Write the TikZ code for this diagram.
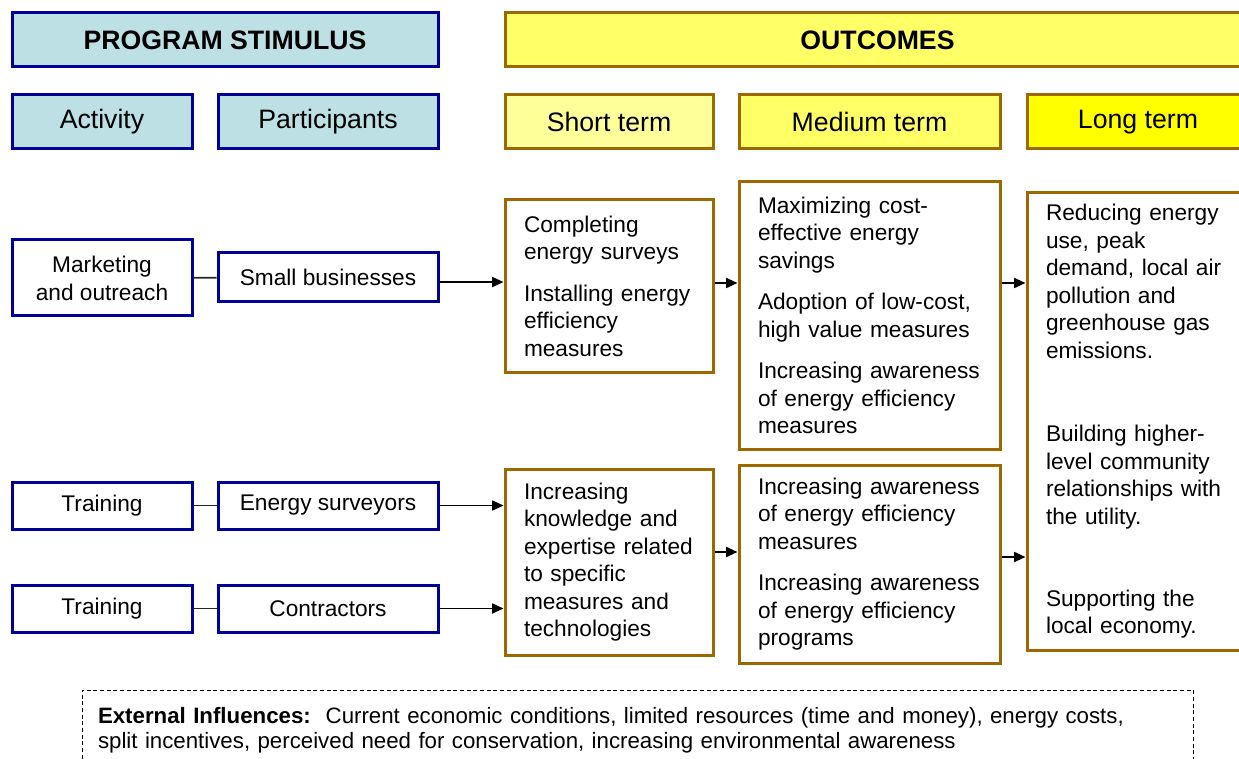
\documentclass[tikz,border=0pt]{standalone}
\usepackage{fontspec}
\setmainfont{Liberation Sans}
\usetikzlibrary{arrows.meta}

\definecolor{stimblue}{RGB}{0,0,153}
\definecolor{stimfill}{RGB}{188,224,228}
\definecolor{outbrown}{RGB}{158,104,0}
\definecolor{outfill}{RGB}{255,255,102}
\definecolor{shortfill}{RGB}{255,255,153}
\definecolor{longfill}{RGB}{255,255,0}

\tikzset{
  stimbox/.style={draw=stimblue, line width=2.25pt, fill=white, inner sep=0pt, align=center,
    font=\fontsize{17}{21}\selectfont},
  stimhead/.style={stimbox, fill=stimfill, minimum height=40.5pt, font=\fontsize{20}{24}\selectfont},
  outhead/.style={draw=outbrown, line width=2.25pt, minimum height=40.5pt, inner sep=0pt,
    font=\fontsize{20}{24}\selectfont},
  outbox/.style={draw=outbrown, line width=2.25pt, fill=white, inner xsep=14.25pt, inner ysep=0pt,
    align=left, font=\fontsize{17}{20.6}\selectfont},
  link/.style={line width=1.2pt, black!85},
  flow/.style={line width=1.3pt, -{Triangle[length=8.5pt,width=7.5pt]}},
}

\begin{document}
\begin{tikzpicture}[x=0.75pt,y=0.75pt,yscale=-1,xscale=1]
\useasboundingbox (0,0) rectangle (1239,759);
\clip (0,0) rectangle (1239,759);

%Shape: Rectangle [headers]
\node [stimhead, minimum width=319.5pt, font=\fontsize{20}{24}\selectfont\bfseries] (stim) at (225,40) {PROGRAM STIMULUS};
\node [outhead, fill=outfill, minimum width=558.75pt, font=\fontsize{20}{24}\selectfont\bfseries] (outc) at (877.5,40) {OUTCOMES};

\node [stimhead, minimum width=135pt] (activity) at (102,122) {Activity};
\node [stimhead, minimum width=165pt] (partic) at (328,122) {Participants};
\node [outhead, fill=shortfill, minimum width=156pt] (shortt) at (609,122) {Short term};
\node [outhead, fill=outfill, minimum width=195.75pt] (medt) at (869.5,122) {Medium term};
\node [outhead, fill=longfill, minimum width=166.5pt] (longt) at (1138,122) {Long term};

%Shape: Rectangle [activities and participants]
\node [stimbox, minimum width=135pt, minimum height=57pt] (market) at (102,278) {Marketing\\and outreach};
\node [stimbox, minimum width=165pt, minimum height=36.75pt] (smallbiz) at (328,277.5) {Small businesses};
\node [stimbox, minimum width=135pt, minimum height=35.25pt] (train1) at (102,505.5) {Training};
\node [stimbox, minimum width=165pt, minimum height=35.25pt] (survey) at (328,505.5) {Energy surveyors};
\node [stimbox, minimum width=135pt, minimum height=35.25pt] (train2) at (102,608.5) {Training};
\node [stimbox, minimum width=165pt, minimum height=35.25pt] (contract) at (328,608.5) {Contractors};

%Shape: Rectangle [outcomes]
\node [outbox, text width=127.5pt, minimum height=129pt] (short1) at (609,286)
  {Completing\\energy surveys\\[10.5pt]Installing energy\\efficiency\\measures};
\node [outbox, text width=167.25pt, minimum height=200.25pt] (med1) at (869.5,315.5)
  {Maximizing cost-\\effective energy\\savings\\[10.5pt]Adoption of low-cost,\\high value measures\\[10.5pt]Increasing awareness\\of energy efficiency\\measures};
\node [outbox, text width=138pt, minimum height=342.75pt] (longb) at (1138,421.5)
  {Reducing energy\\use, peak\\demand, local air\\pollution and\\greenhouse gas\\emissions.\\[42pt]Building higher-\\level community\\relationships with\\the utility.\\[41pt]Supporting the\\local economy.};
\node [outbox, text width=127.5pt, minimum height=139.5pt] (short2) at (609,562)
  {Increasing\\knowledge and\\expertise related\\to specific\\measures and\\technologies};
\node [outbox, text width=167.25pt, minimum height=148.5pt] (med2) at (869.5,564)
  {Increasing awareness\\of energy efficiency\\measures\\[10.5pt]Increasing awareness\\of energy efficiency\\programs};

%Straight Lines
\draw [link] (market) -- (smallbiz);
\draw [link] (train1) -- (survey);
\draw [link] (train2) -- (contract);

%Straight Lines [arrows]
\draw [flow] ([yshift=3.4pt]smallbiz.east) -- ([yshift=3.4pt]smallbiz.east -| short1.west);
\draw [flow] (survey.east) -- (survey.east -| short2.west);
\draw [flow] (contract.east) -- (contract.east -| short2.west);
\draw [flow] ([yshift=-2.25pt]short1.east) -- ([yshift=-2.25pt]short1.east -| med1.west);
\draw [flow] ([yshift=-2.25pt]med1.east |- short1.east) -- ([yshift=-2.25pt]short1.east -| longb.west);
\draw [flow] ([yshift=-7.5pt]short2.east) -- ([yshift=-7.5pt]short2.east -| med2.west);
\draw [flow] ([yshift=-5.25pt]med2.east) -- ([yshift=-5.25pt]med2.east -| longb.west);

% Text Node
\node [draw, line width=0.75pt, dash pattern=on 3pt off 2pt, inner xsep=12pt, inner ysep=0pt,
  text width=809.25pt, minimum height=60pt, align=left, font=\fontsize{16.7}{19}\selectfont] (extern) at (637.5,730)
  {\textbf{External Influences:}\ \ Current economic conditions, limited resources (time and money), energy costs,\\split incentives, perceived need for conservation, increasing environmental awareness};
\end{tikzpicture}
\end{document}
